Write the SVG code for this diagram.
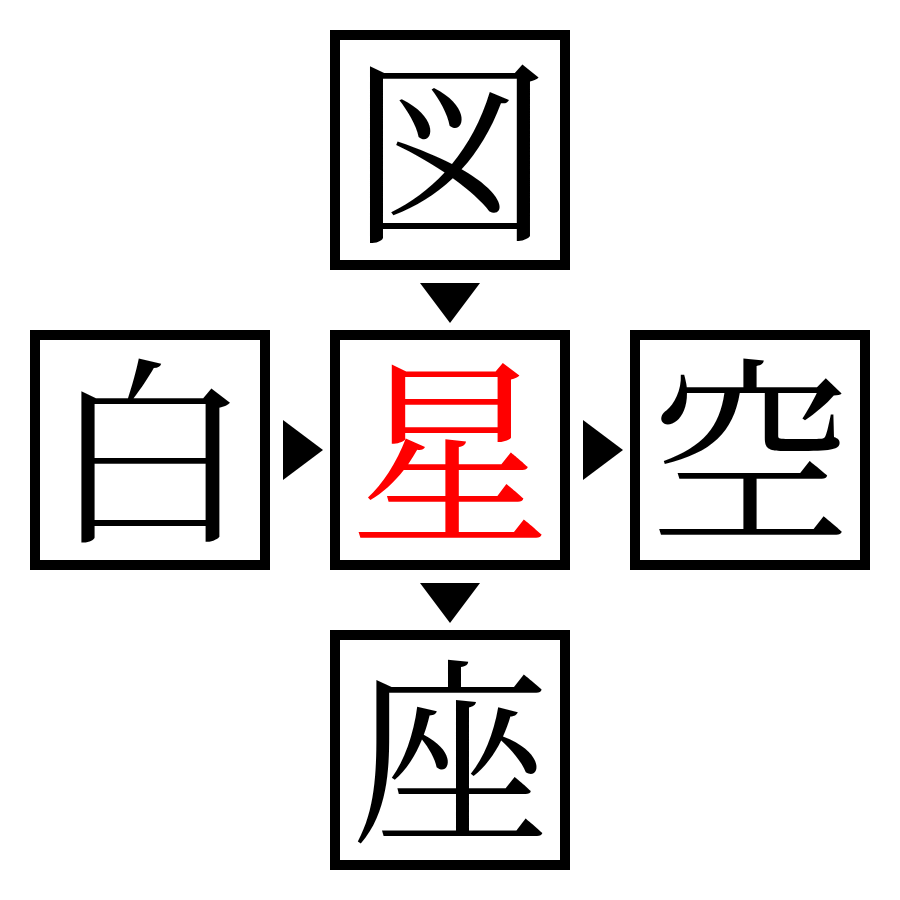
<svg xmlns="http://www.w3.org/2000/svg" width="900" height="900" viewBox="0 0 900 900">
<style>
.box{fill:#fff;stroke:#000;stroke-width:10}
.ch{font-family:"Noto Serif CJK JP","Noto Sans CJK JP",serif;font-size:200px;text-anchor:middle;dominant-baseline:central}
.arr{fill:#000}
</style>
<rect width="900" height="900" fill="#fff"/>
<g id="node-top"><rect class="box" x="335" y="35" width="230" height="230"/><text class="ch" x="450" y="140">図</text></g>
<g id="node-left"><rect class="box" x="35" y="335" width="230" height="230"/><text class="ch" x="150" y="440">白</text></g>
<g id="node-center"><rect class="box" x="335" y="335" width="230" height="230"/><text class="ch" x="450" y="440" fill="#f00">星</text></g>
<g id="node-right"><rect class="box" x="635" y="335" width="230" height="230"/><text class="ch" x="750" y="440">空</text></g>
<g id="node-bottom"><rect class="box" x="335" y="635" width="230" height="230"/><text class="ch" x="450" y="740">座</text></g>
<g id="connectors">
<polygon class="arr" points="420,283 480,283 450,323"/>
<polygon class="arr" points="283,420 283,480 323,450"/>
<polygon class="arr" points="583,420 583,480 623,450"/>
<polygon class="arr" points="420,583 480,583 450,623"/>
</g>
</svg>
